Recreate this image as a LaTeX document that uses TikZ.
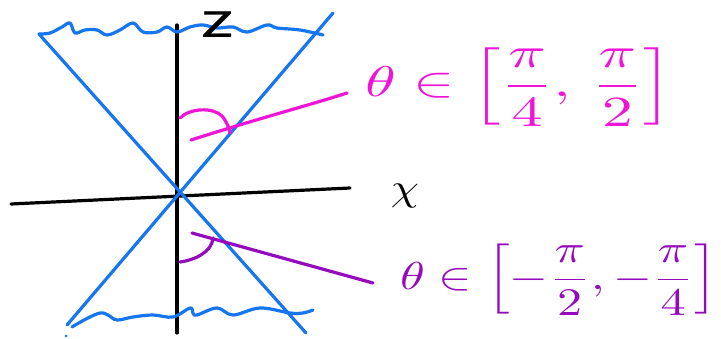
\documentclass[tikz,border=0pt]{standalone}
\usepackage{amsmath}
\definecolor{penblue}{RGB}{22,118,240}
\definecolor{penmag}{RGB}{240,20,215}
\definecolor{penpurple}{RGB}{150,10,190}
\tikzset{
  pen/.style={line width=3.2pt, line cap=round, line join=round},
  axis/.style={pen, black},
  cone/.style={pen, penblue},
  labeltext/.style={inner sep=0pt, anchor=center},
}
\begin{document}
\begin{tikzpicture}[x=1pt,y=-1pt]
\useasboundingbox[fill=white] (0,0) rectangle (721,339);
% axes
\coordinate (ztop) at (177,25);
\coordinate (zbot) at (177,333);
\coordinate (xleft) at (11,204);
\coordinate (xright) at (350,188);
\draw[axis] (ztop) -- (zbot);
\draw[axis] (xleft) -- (xright);
% cone lines
\coordinate (c1a) at (39,34);
\coordinate (c1b) at (306,333);
\coordinate (c2a) at (333,13);
\coordinate (c2b) at (67,325);
\draw[cone] (c1a) -- (c1b);
\draw[cone] (c2a) -- (c2b);
% top wavy rim
\draw[cone] plot[smooth, tension=0.6] coordinates {(39,34) (50,33) (62,27) (70,23) (75,33) (85,30) (97,30) (107,35) (120,30) (133,23) (143,32) (157,32) (167,27) (177,32) (190,27) (203,25) (217,28) (233,27) (247,32) (267,25) (277,28) (300,30) (323,35)};
% bottom wavy rim
\draw[cone] plot[smooth, tension=0.6] coordinates {(72,327) (86,319) (100,313) (108,315) (117,320) (133,317) (153,315) (173,317) (190,308) (193,313) (197,315) (217,308) (233,315) (260,308) (290,313) (303,313) (313,310)};
\fill[penblue] (66,336) circle (1.5pt);
% axis labels
\node[labeltext] (zlab) at (218,25) {\scalebox{7.5}[5.8]{$\mathsf{z}$}};
\node[labeltext] (xlab) at (405,196) {\scalebox{4.5}[3.8]{$\chi$}};
% magenta angle
\draw[pen, penmag] (180,118) .. controls (190,108) and (213,107) .. (222,116) .. controls (227,122) and (229,128) .. (230,133);
\coordinate (magstart) at (191,140);
\coordinate (magend) at (347,93);
\draw[pen, penmag] (magstart) .. controls (260,118) and (310,105) .. (magend);
\node[labeltext, text=penmag] (maglab) at (519,87)
  {\scalebox{6.2}[4.3]{$\theta\in\Bigl[\dfrac{\pi}{4},\,\dfrac{\pi}{2}\Bigr]$}};
% purple angle
\draw[pen, penpurple] (180,262) .. controls (195,260) and (212,252) .. (213,238);
\coordinate (purstart) at (192,233);
\coordinate (purend) at (373,283);
\draw[pen, penpurple] (purstart) -- (purend);
\node[labeltext, text=penpurple] (purlab) at (559,280)
  {\scalebox{5}[3.9]{$\theta\in\Bigl[-\dfrac{\pi}{2},-\dfrac{\pi}{4}\Bigr]$}};
\end{tikzpicture}
\end{document}
